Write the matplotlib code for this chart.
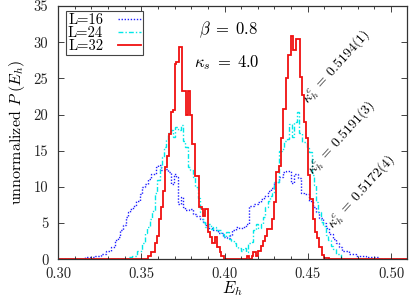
import matplotlib
matplotlib.use("Agg")
import matplotlib.pyplot as plt
from matplotlib.lines import Line2D
import numpy as np

plt.rcParams['font.family'] = 'serif'
plt.rcParams['font.serif'] = ['cmr10', 'DejaVu Serif']
plt.rcParams['mathtext.fontset'] = 'cm'
plt.rcParams['axes.formatter.use_mathtext'] = True

# ---------------- data ----------------
labels = ["L=16", "L=24", "L=32"]

# L=16 histogram (bin edges in E_h, heights)
edges16 = [0.3000, 0.3162, 0.3222, 0.3257, 0.3287, 0.3317, 0.3341, 0.3359, 0.3371, 0.3389,
           0.3407, 0.3423, 0.3435, 0.3451, 0.3471, 0.3491, 0.3507, 0.3521, 0.3541, 0.3561,
           0.3591, 0.3601, 0.3621, 0.3641, 0.3660, 0.3681, 0.3696, 0.3711, 0.3720, 0.3737,
           0.3750, 0.3765, 0.3784, 0.3810, 0.3831, 0.3850, 0.3868, 0.3884, 0.3900, 0.3928,
           0.3958, 0.3988, 0.4012, 0.4030, 0.4048, 0.4070, 0.4090, 0.4110, 0.4130, 0.4150,
           0.4180, 0.4199, 0.4220, 0.4240, 0.4259, 0.4280, 0.4299, 0.4329, 0.4349, 0.4370,
           0.4399, 0.4419, 0.4439, 0.4459, 0.4479, 0.4509, 0.4529, 0.4549, 0.4569, 0.4589,
           0.4609, 0.4629, 0.4649, 0.4669, 0.4689, 0.4708, 0.4749, 0.4790, 0.4850, 0.4928,
           0.5096]
values16 = [0.1, 0.3, 0.4, 0.8, 1.2, 1.7, 2.6, 3.1, 4.0, 4.7,
            5.8, 6.5, 7.0, 7.4, 8.0, 9.0, 10.0, 10.4, 11.1, 11.8,
            12.7, 13.0, 12.3, 12.5, 12.0, 10.4, 11.8, 11.4, 7.6, 8.6,
            7.2, 6.8, 7.0, 6.3, 6.0, 5.6, 5.2, 4.7, 4.3, 4.0,
            3.6, 3.1, 2.9, 3.3, 4.0, 4.5, 4.3, 4.5, 4.9, 7.4,
            7.6, 7.9, 8.4, 8.8, 9.4, 9.9, 10.7, 11.4, 12.0, 12.2,
            10.5, 11.8, 11.2, 9.1, 9.0, 8.1, 7.2, 6.5, 5.7, 5.0,
            4.3, 3.5, 2.8, 2.2, 1.7, 1.2, 0.8, 0.5, 0.3, 0.1]

# L=24 histogram
edges24 = [0.3341, 0.3419, 0.3443, 0.3473, 0.3503, 0.3521, 0.3535, 0.3551, 0.3567, 0.3581,
           0.3596, 0.3611, 0.3625, 0.3637, 0.3650, 0.3660, 0.3677, 0.3690, 0.3705, 0.3720,
           0.3737, 0.3750, 0.3765, 0.3780, 0.3795, 0.3810, 0.3825, 0.3838, 0.3850, 0.3870,
           0.3884, 0.3900, 0.3916, 0.3930, 0.3950, 0.3964, 0.3980, 0.3996, 0.4010, 0.4024,
           0.4040, 0.4056, 0.4070, 0.4084, 0.4100, 0.4114, 0.4130, 0.4144, 0.4160, 0.4174,
           0.4190, 0.4204, 0.4220, 0.4234, 0.4246, 0.4259, 0.4274, 0.4286, 0.4299, 0.4329,
           0.4343, 0.4359, 0.4373, 0.4389, 0.4403, 0.4419, 0.4433, 0.4449, 0.4463, 0.4493,
           0.4509, 0.4523, 0.4535, 0.4549, 0.4563, 0.4579, 0.4593, 0.4609, 0.4623, 0.4639,
           0.4653, 0.4669, 0.4699, 0.4719, 0.4749]
values24 = [0.05, 0.3, 0.5, 1.2, 2.2, 3.6, 4.5, 5.6, 6.7, 9.1,
            10.9, 12.7, 14.1, 15.5, 16.5, 17.4, 17.8, 16.9, 18.3, 17.8,
            18.5, 16.4, 15.5, 12.7, 12.4, 11.4, 10.0, 8.5, 6.5, 5.1,
            4.5, 4.9, 4.2, 4.5, 4.0, 4.1, 3.5, 3.1, 3.8, 2.8,
            2.5, 2.2, 1.9, 1.5, 1.2, 1.5, 1.0, 2.2, 2.4, 4.0,
            4.9, 4.3, 4.9, 5.8, 7.2, 8.1, 8.8, 9.1, 10.7, 15.0,
            15.2, 16.4, 16.6, 18.7, 16.9, 19.0, 20.3, 17.5, 16.2, 15.4,
            14.8, 11.6, 10.2, 7.9, 6.5, 5.1, 4.6, 3.3, 2.6, 1.9,
            1.4, 0.7, 0.2, 0.05]

# L=32 histogram
edges32 = [0.3491, 0.3539, 0.3560, 0.3581, 0.3596, 0.3608, 0.3620, 0.3632, 0.3644, 0.3656,
           0.3668, 0.3680, 0.3692, 0.3701, 0.3711, 0.3725, 0.3744, 0.3771, 0.3778, 0.3795,
           0.3807, 0.3820, 0.3846, 0.3862, 0.3871, 0.3883, 0.3898, 0.3910, 0.3925, 0.3940,
           0.3955, 0.3970, 0.3980, 0.3997, 0.4012, 0.4138, 0.4150, 0.4165, 0.4174, 0.4189,
           0.4204, 0.4220, 0.4234, 0.4246, 0.4257, 0.4286, 0.4299, 0.4310, 0.4325, 0.4340,
           0.4353, 0.4370, 0.4383, 0.4401, 0.4413, 0.4429, 0.4453, 0.4465, 0.4479, 0.4489,
           0.4503, 0.4515, 0.4529, 0.4543, 0.4555, 0.4569, 0.4583, 0.4599, 0.4629]
values32 = [0.1, 0.4, 1.0, 2.2, 3.2, 5.5, 7.2, 9.5, 12.7, 14.3,
            17.3, 20.4, 20.6, 27.0, 27.2, 29.4, 23.3, 19.9, 23.3, 19.9,
            16.0, 11.5, 7.2, 7.0, 6.0, 7.0, 3.8, 3.1, 2.2, 3.1,
            1.7, 1.0, 0.4, 0.1, 0.0, 0.4, 0.0, 0.5, 1.0, 0.5,
            1.2, 1.9, 2.5, 3.2, 4.2, 5.6, 7.9, 12.1, 12.9, 16.7,
            20.8, 25.0, 28.2, 30.9, 28.9, 30.4, 25.2, 22.7, 19.0, 16.7,
            11.6, 8.4, 5.6, 3.8, 2.9, 1.7, 0.6, 0.2]

xticks = [0.30, 0.35, 0.40, 0.45, 0.50]
xticklabels = ["0.30", "0.35", "0.40", "0.45", "0.50"]
yticks = [0, 5, 10, 15, 20, 25, 30, 35]
kappa_labels = [r"$\kappa_h^c \;=\; 0.5194(1)$", r"$\kappa_h^c \;=\; 0.5191(3)$",
                r"$\kappa_h^c \;=\; 0.5172(4)$"]
kappa_pos = [(0.4674, 26.6), (0.4704, 16.8), (0.4822, 9.3)]

xmin, xmax = 0.30, 0.5096

# ---------------- plot ----------------
fig = plt.figure(figsize=(4.09, 3.0), dpi=100)
ax = fig.add_axes([58/409, 1 - 259.3/300, (407 - 58)/409, (259.3 - 6)/300])

styles = [dict(color='#2020ff', ls=(0, (1, 1.2)), lw=1.0),
          dict(color='#00e8e8', ls=(0, (3.5, 1.5, 1, 1.5)), lw=1.0),
          dict(color='#f01010', ls='-', lw=1.3)]

series = [(edges16, values16), (edges24, values24), (edges32, values32)]
for (e, v), st in zip(series, styles):
    e = list(e)
    v = list(v)
    if e[0] > xmin:
        e = [xmin] + e
        v = [0.0] + v
    if e[-1] < xmax:
        e = e + [xmax]
        v = v + [0.0]
    ax.stairs(v, e, baseline=None, fill=False, edgecolor=st['color'],
              linestyle=st['ls'], linewidth=st['lw'])

ax.set_xlim(xmin, xmax)
ax.set_ylim(0, 35)
ax.set_xticks(xticks)
ax.set_xticklabels(xticklabels)
ax.set_xticks(np.arange(0.31, 0.509, 0.01), minor=True)
ax.set_yticks(yticks)
ax.set_yticklabels([str(t) for t in yticks])
ax.tick_params(which='both', direction='in', top=True, right=True, labelsize=10.5, colors='#222222')
ax.tick_params(axis='x', which='major', pad=5.5)
ax.tick_params(axis='y', which='major', pad=7)
ax.tick_params(which='major', length=4, width=0.6)
ax.tick_params(which='minor', length=2.5, width=0.6)
for s in ax.spines.values():
    s.set_color('#333333')
    s.set_linewidth(0.9)

ax.set_xlabel(r"$E_h$", fontsize=12, labelpad=-1)
ax.set_ylabel(r"unnormalized $P\;(E_h)$", fontsize=11.5, labelpad=5)

ax.text(0.4024, 31.7, r"$\beta \;=\; 0.8$", fontsize=12, ha='center', va='center')
ax.text(0.4012, 27.2, r"$\kappa_s \;=\; 4.0$", fontsize=12, ha='center', va='center')
for lab, (x, y) in zip(kappa_labels, kappa_pos):
    ax.text(x, y, lab, fontsize=10, rotation=48, ha='center', va='center',
            rotation_mode='anchor')

handles = [Line2D([], [], color=st['color'], linestyle=st['ls'], linewidth=st['lw'])
           for st in styles]
leg = ax.legend(handles, labels, loc='upper left', bbox_to_anchor=(0.018, 0.985),
                fontsize=10.5, frameon=True, fancybox=False, framealpha=1,
                edgecolor='#444444', handlelength=1.6, handletextpad=1.0,
                borderpad=0.15, labelspacing=-0.05, markerfirst=False,
                borderaxespad=0.1)
leg.get_frame().set_linewidth(0.8)

fig.savefig("out.png", dpi=100)
